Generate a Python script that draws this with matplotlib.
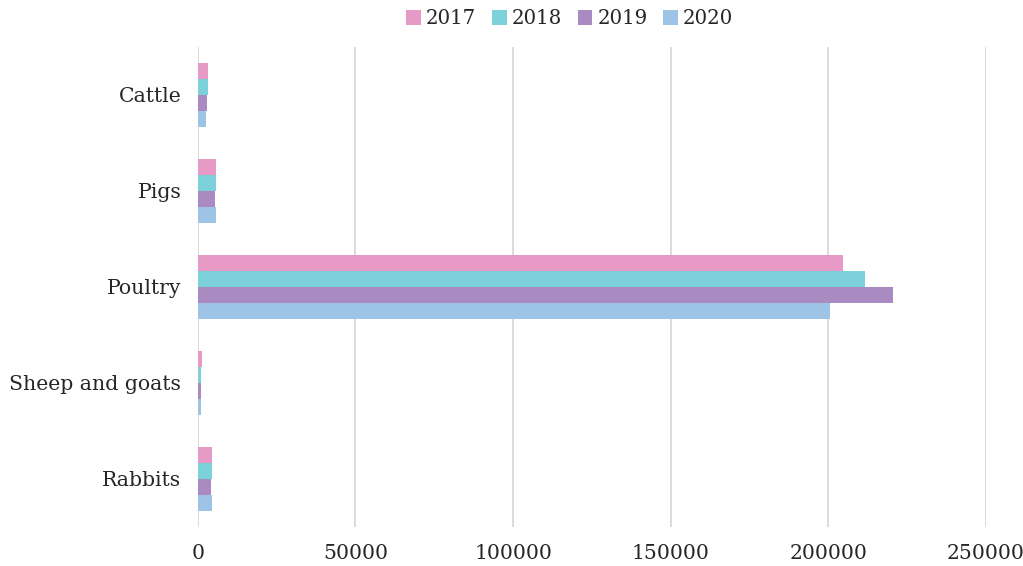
import matplotlib.pyplot as plt
import numpy as np

plt.rcParams['font.family'] = ['DejaVu Serif']

categories = ["Cattle", "Pigs", "Poultry", "Sheep and goats", "Rabbits"]
years = ["2017", "2018", "2019", "2020"]
v2017 = [3300, 5850, 204800, 1200, 4600]
v2018 = [3200, 5750, 211700, 1100, 4600]
v2019 = [2900, 5400, 220500, 1000, 4300]
v2020 = [2700, 5650, 200600, 900, 4400]
colors = ['#E89AC6', '#7DD1DA', '#A98BC2', '#9DC3E6']

fig = plt.figure(figsize=(10.23, 5.66), dpi=100)
ax = fig.add_axes([0.1935, 0.069, 0.77, 0.848])

index = np.arange(len(categories))
bar_h = 0.1667
series = [v2017, v2018, v2019, v2020]
for i, (vals, yr, c) in enumerate(zip(series, years, colors)):
	ax.barh(index + (i - 1.5) * bar_h, vals, bar_h, color=c, label=yr)

ax.set_ylim(len(categories) - 0.5, -0.5)
ax.set_xlim(0, 250000)
ax.set_xticks(np.arange(0, 250001, 50000))
ax.set_yticks(index)
ax.set_yticklabels(categories)
ax.xaxis.grid(True, color='#D9D9D9', linewidth=1.3)
ax.set_axisbelow(True)
for s in ax.spines.values():
	s.set_visible(False)
ax.tick_params(length=0, labelsize=14.7, colors='#262626')
ax.tick_params(axis='y', pad=12)
ax.tick_params(axis='x', pad=12)

fig.legend(loc='center', bbox_to_anchor=(0.557, 0.967), ncol=4, frameon=False,
	fontsize=14.2, handlelength=0.75, handleheight=0.75, handletextpad=0.25,
	columnspacing=0.8, labelcolor='#262626')

fig.savefig('out.png')
